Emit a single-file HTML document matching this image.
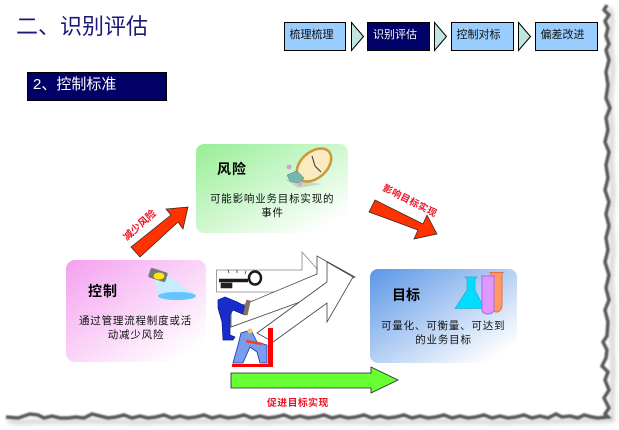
<!DOCTYPE html>
<html><head><meta charset="utf-8"><style>
html,body{margin:0;padding:0;background:#fff;width:619px;height:430px;overflow:hidden}
svg{display:block}
text{font-family:"Liberation Sans","Noto Sans CJK SC",sans-serif}
</style></head><body>
<svg width="619" height="430" viewBox="0 0 619 430" xmlns="http://www.w3.org/2000/svg">
<defs>
<linearGradient id="g1" x1="0" y1="0" x2="1" y2="1"><stop offset="0" stop-color="#96ee96"/><stop offset=".9" stop-color="#fff"/></linearGradient>
<linearGradient id="g2" x1="0" y1="0" x2="1" y2="1"><stop offset="0" stop-color="#f4a0f0"/><stop offset=".9" stop-color="#fff"/></linearGradient>
<linearGradient id="g3" x1="0" y1="0" x2="1" y2="1"><stop offset="0" stop-color="#5a96e6"/><stop offset=".9" stop-color="#fff"/></linearGradient>
<filter id="b" x="-5%" y="-5%" width="110%" height="110%"><feGaussianBlur stdDeviation=".9"/></filter>
<filter id="s" x="-5%" y="-5%" width="110%" height="110%"><feGaussianBlur stdDeviation="2.5"/></filter>
<filter id="t" x="-5%" y="-5%" width="110%" height="110%"><feGaussianBlur stdDeviation=".3"/></filter>
</defs>

<!-- torn edge -->
<path d="M610 8L612 20L610 40L613 70L610 100L612 130L611 160L613 190L611 220L613 250L611 280L613 310L612 340L613 370L612 400L612 420L560 421L500 422L440 421L380 422L320 421L260 422L200 421L140 422L80 421L20 422L8 421" fill="none" stroke="#ccc" stroke-width="4" filter="url(#s)"/>
<path d="M607 5L604 10L609 15L605 21L608 28L606 36L609 44L606 50L609 60L606 72L608 85L606 98L610 108L606 118L608 130L605 142L609 152L606 165L608 178L605 190L609 202L606 214L609 226L606 238L608 250L605 262L609 275L606 288L609 300L605 310L608 322L607 336L603 342L607 350L606 358L602 366L608 372L605 380L609 390L604 398L609 408L605 414L608 417L598 418L592 417L584 415L578 418L570 416L562 417L556 414L548 418L540 416L532 418L524 415L516 417L508 418L500 416L492 418L484 415L476 417L468 418L460 416L452 418L444 415L436 417L428 418L420 416L412 418L404 415L396 417L388 418L380 416L372 418L364 415L356 417L348 418L340 416L332 418L324 415L316 417L308 418L300 416L292 418L284 415L276 417L268 418L260 416L252 418L244 415L236 417L228 418L220 416L212 418L204 415L196 417L188 418L180 416L172 418L164 415L156 417L148 418L140 416L132 418L124 415L116 417L108 418L100 416L92 414L84 418L76 417L68 418L60 418L52 416L44 418L38 415L30 414L24 416L18 418L6 417" fill="none" stroke="#5a5a5a" stroke-width="3.500" filter="url(#b)"/>

<!-- title -->
<text x="16" y="34" font-size="22" fill="#1a1a78">二、识别评估</text>

<!-- nav -->
<g stroke="#000" stroke-width="1">
<rect x="284.500" y="22.500" width="61" height="28" fill="#99ccff"/>
<rect x="367.500" y="22.500" width="62" height="28" fill="#000066"/>
<rect x="451.500" y="22.500" width="62" height="28" fill="#99ccff"/>
<rect x="535.500" y="22.500" width="62" height="28" fill="#99ccff"/>
<polygon points="351.500,22.500 363.500,36.500 351.500,50.500" fill="#c0e4e0"/>
<polygon points="434.500,22.500 446.500,36.500 434.500,50.500" fill="#c0e4e0"/>
<polygon points="518.500,22.500 530.500,36.500 518.500,50.500" fill="#c0e4e0"/>
</g>
<g font-size="11">
<text x="289.500" y="38" fill="#111">梳理梳理</text>
<text x="373" y="38" fill="#fff">识别评估</text>
<text x="456.500" y="38" fill="#111">控制对标</text>
<text x="540.500" y="38" fill="#111">偏差改进</text>
</g>

<!-- sub header -->
<rect x="27.500" y="72.500" width="139" height="28" fill="#000066" stroke="#000"/>
<text x="33" y="89" font-size="15" fill="#fff">2、控制标准</text>

<!-- cards -->
<rect x="196" y="144" width="152" height="89" rx="8" fill="url(#g1)"/>
<rect x="66" y="260" width="140" height="102" rx="9" fill="url(#g2)"/>
<rect x="370" y="269" width="147" height="94" rx="8" fill="url(#g3)"/>

<!-- white arrows -->
<polygon points="216.500,270 302,270 302,252 318,270 318,292 216.500,292" fill="#fff" stroke="#888" stroke-width=".8"/>
<g fill="#fff" stroke="#444" stroke-width=".8">
<polygon points="231,327 231,310 317,274 317,256 355,277 300,302"/>
<polygon points="273,342 327,303 327,322 353,277 327,262 327,282 257,333"/>
</g>

<!-- key -->
<g fill="none" stroke="#1a1a1a">
<path d="M219 280.500H248" stroke-width="3.500"/>
<ellipse cx="255" cy="278" rx="6" ry="6.500" stroke-width="2.500"/>
<path d="M221 283h11v5h-11z" fill="#222" stroke-width=".6"/>
<path d="M228 270l1 3M237 270v3M246 271l-1 3" stroke-width=".7"/>
</g>
<!-- man -->
<polygon points="218,300 225,297 237,302 247,307 245,315 233,310 230,315 230,335 235,337 233,340 223,340 222,322 218,308" fill="#1a2ccc" stroke="#001a80" stroke-width=".7"/>
<rect x="245" y="300" width="4.500" height="15" fill="#8a7060" transform="rotate(12 247 306)"/>
<!-- person with red L -->
<polygon points="268,328 273,328 273,367 232,367 232,364 268,364" fill="#f00"/>
<polygon points="233,363 238,345 241,333 251,330 257,342 267,345 267,363 260,363 257,352 250,347 243,363" fill="#7a9cf0" stroke="#1a3a9c" stroke-width=".8"/>
<path d="M246 341L262 344" stroke="#f04020" stroke-width="2.500"/>
<circle cx="250" cy="331" r="2.500" fill="#f0c870"/>

<!-- red arrows -->
<polygon points="131,247 140,257 178,222 183,229 188,207 166,209 171,215" fill="#ff3300" stroke="#222" stroke-width=".7"/>
<polygon points="375,200 423,224 427,215 437,234 414,239 418,230 369,212" fill="#ff3300" stroke="#222" stroke-width=".7"/>
<!-- green arrow -->
<polygon points="231,373 371,373 371,367 398,380 371,393 371,388 231,388" fill="#66ff33" stroke="#222" stroke-width=".8"/>

<!-- arrow labels -->
<text transform="translate(127,241) rotate(-42)" font-size="10" font-weight="bold" fill="#ee1122">减少风险</text>
<text transform="translate(382,190) rotate(27)" font-size="9.500" font-weight="bold" fill="#ee1122" letter-spacing=".4">影响目标实现</text>
<text x="267" y="406" font-size="9.800" font-weight="bold" fill="#ee1122" letter-spacing=".5">促进目标实现</text>

<!-- clock -->
<path d="M284 179L322 184L298 188Z" fill="#c8d8c0"/>
<ellipse cx="314" cy="165" rx="20" ry="13" transform="rotate(-42 314 165)" fill="#fbe9c0" stroke="#c89a38" stroke-width="2.500"/>
<path d="M315 166L321 172M315 166L312 156" stroke="#333" stroke-width="1"/>
<path d="M287 175L297 171L304 178L298 183L290 181Z" fill="#70b8b0" stroke="#4a7a70" stroke-width=".5"/>
<circle cx="289" cy="167" r="2.500" fill="#c8a8d8"/>
<circle cx="300" cy="184" r="2" fill="#c8a8d8"/>

<!-- spotlight -->
<polygon points="155,280 167,275 196,295 158,296" fill="#c8ecff"/>
<ellipse cx="177" cy="296" rx="19" ry="4" fill="#66c4ff"/>
<rect x="149" y="270" width="18" height="10" rx="2" transform="rotate(18 158 275)" fill="#777"/>
<ellipse cx="159" cy="276" rx="5.500" ry="3.500" fill="#ffe800"/>

<!-- flasks -->
<path d="M489 272.500H504M491 273V305a5.500 7 0 0 0 11 0V273" fill="#ff9966" stroke="#e87040" stroke-width="1"/>
<polygon points="465,277 477,277 475,279 475,290 484.500,308.500 455,308.500 467,290 467,279" fill="#00ddff" stroke="#33aacc" stroke-width=".7"/>
<path d="M481 276H495M482 276V310a6 4 0 0 0 12 0V276" fill="#dd99ff" stroke="#aa66ee" stroke-width="1"/>

<!-- card text -->
<g font-size="14" font-weight="bold" fill="#000">
<text x="217" y="174" letter-spacing="1">风险</text>
<text x="88" y="296" letter-spacing="1">控制</text>
<text x="392" y="300">目标</text>
</g>
<g font-size="10.500" fill="#111" letter-spacing=".8">
<text x="210" y="202">可能影响业务目标实现的</text>
<text x="272.500" y="216" text-anchor="middle">事件</text>
<text x="79" y="324">通过管理流程制度或活</text>
<text x="136" y="338" text-anchor="middle">动减少风险</text>
<text x="381" y="329">可量化、可衡量、可达到</text>
<text x="443.500" y="343" text-anchor="middle">的业务目标</text>
</g>
</svg>
</body></html>
